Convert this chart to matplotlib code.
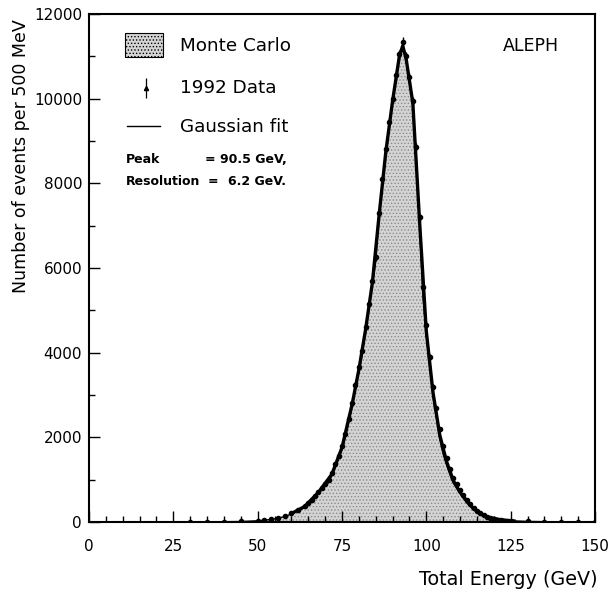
import numpy as np
import matplotlib
matplotlib.use('Agg')
import matplotlib.pyplot as plt
from matplotlib.patches import Rectangle
from matplotlib.ticker import MultipleLocator

# energy grid (GeV)
energy = [30, 35, 40, 45, 50, 52, 54, 56, 58, 60, 62, 64,
          65, 66, 67, 68, 69, 70, 71, 72, 73, 74, 75, 76, 77, 78, 79,
          80, 81, 82, 83, 84, 85, 86, 87, 88, 89, 90, 91, 92, 93, 94,
          95, 96, 97, 98, 99, 100, 101, 102, 103, 104, 105, 106, 107, 108, 109,
          110, 111, 112, 113, 114, 115, 116, 117, 118, 119, 120,
          122, 125, 130, 135, 140, 145, 150]

# Monte Carlo histogram (events / 500 MeV)
mc_counts = [3, 5, 8, 12, 30, 45, 60, 90, 130, 190, 260, 350,
             420, 490, 580, 670, 760, 850, 930, 1100, 1300, 1500, 1720, 2000, 2350, 2720, 3150,
             3550, 3950, 4500, 5050, 5600, 6150, 7200, 8000, 8700, 9350, 9900, 10450, 10950, 11200, 10900,
             10400, 9850, 8700, 7000, 5300, 4400, 3650, 2950, 2450, 1950, 1600, 1350, 1120, 920, 800,
             680, 560, 450, 370, 300, 240, 190, 150, 115, 90, 70,
             50, 30, 15, 8, 5, 3, 2]

# 1992 data
data_counts = [4, 6, 9, 14, 35, 50, 68, 100, 145, 210, 285, 380,
               455, 530, 620, 715, 800, 900, 990, 1160, 1370, 1570, 1800, 2080, 2440, 2800, 3240,
               3650, 4050, 4600, 5150, 5700, 6250, 7300, 8100, 8800, 9450, 10000, 10550, 11050, 11350, 11000,
               10500, 9950, 8850, 7200, 5550, 4650, 3900, 3200, 2700, 2200, 1800, 1520, 1260, 1040, 900,
               760, 630, 510, 420, 340, 270, 215, 170, 130, 100, 80,
               55, 35, 18, 10, 6, 4, 3]

# Gaussian fit curve
fit_energy = [60, 64, 68, 72, 75, 78, 80, 82, 84, 86, 88, 90, 92, 93, 94, 96, 98, 100,
              102, 104, 106, 108, 110, 114, 118, 122, 126]
fit_counts = [200, 370, 700, 1130, 1760, 2780, 3600, 4550, 5650, 7250, 8750, 9950, 11000, 11250, 10950,
              9900, 7100, 4500, 3050, 2050, 1430, 980, 700, 310, 120, 55, 25]

fig = plt.figure(figsize=(6.13, 5.93), dpi=100)
ax = fig.add_axes([0.1452, 0.1197, 0.8254, 0.8567])

plt.rcParams['hatch.linewidth'] = 0.6
ax.fill_between(energy, mc_counts, 0, facecolor='#d4d4d4', edgecolor='#8a8a8a',
                hatch='.....', linewidth=0, zorder=1)
ax.plot(energy, mc_counts, color='black', lw=1.0, zorder=2)

ax.plot(fit_energy, fit_counts, color='black', lw=2.4, zorder=3)
ax.errorbar(energy, data_counts, yerr=np.sqrt(data_counts), fmt='o', ms=3,
            color='black', elinewidth=1.0, capsize=0, zorder=4)

ax.set_xlim(0, 150)
ax.set_ylim(0, 12000)
ax.xaxis.set_major_locator(MultipleLocator(25))
ax.xaxis.set_minor_locator(MultipleLocator(5))
ax.yaxis.set_major_locator(MultipleLocator(2000))
ax.yaxis.set_minor_locator(MultipleLocator(1000))
ax.tick_params(which='both', direction='in', top=False, right=False,
               labelsize=11, width=1)
ax.tick_params(which='major', length=8)
ax.tick_params(which='minor', length=4)
ax.tick_params(axis='x', which='major', pad=12)
ax.tick_params(axis='y', which='major', pad=5)
for s in ax.spines.values():
    s.set_linewidth(1.5)

ax.set_ylabel('Number of events per 500 MeV', fontsize=12.5)
ax.yaxis.set_label_coords(-0.117, 0.72)
ax.set_xlabel('Total Energy (GeV)', fontsize=13.8, ha='right')
ax.xaxis.set_label_coords(1.006, -0.094)

# legend drawn by hand
ax.add_patch(Rectangle((0.072, 0.915), 0.075, 0.047, transform=ax.transAxes,
                       facecolor='#d4d4d4', edgecolor='black', hatch='.....', lw=0.8))
ax.errorbar([0.113], [0.854], yerr=[0.02], fmt='^', ms=3, color='black',
            elinewidth=0.9, transform=ax.transAxes)
ax.plot([0.075, 0.140], [0.780, 0.780], color='black', lw=1, transform=ax.transAxes)
ax.text(0.180, 0.937, 'Monte Carlo', fontsize=13.2, va='center', transform=ax.transAxes)
ax.text(0.180, 0.854, '1992 Data', fontsize=13.2, va='center', transform=ax.transAxes)
ax.text(0.180, 0.778, 'Gaussian fit', fontsize=13.2, va='center', transform=ax.transAxes)

ax.text(0.072, 0.713, 'Peak', fontsize=9, fontweight='bold', va='center', transform=ax.transAxes)
ax.text(0.229, 0.713, '= 90.5 GeV,', fontsize=9, fontweight='bold', va='center', transform=ax.transAxes)
ax.text(0.072, 0.670, 'Resolution', fontsize=9, fontweight='bold', va='center', transform=ax.transAxes)
ax.text(0.235, 0.670, '=', fontsize=9, fontweight='bold', va='center', transform=ax.transAxes)
ax.text(0.275, 0.670, '6.2 GeV.', fontsize=9, fontweight='bold', va='center', transform=ax.transAxes)

ax.text(0.818, 0.937, 'ALEPH', fontsize=12.5, va='center', transform=ax.transAxes)

fig.savefig('out.png', dpi=100)
plt.close(fig)
